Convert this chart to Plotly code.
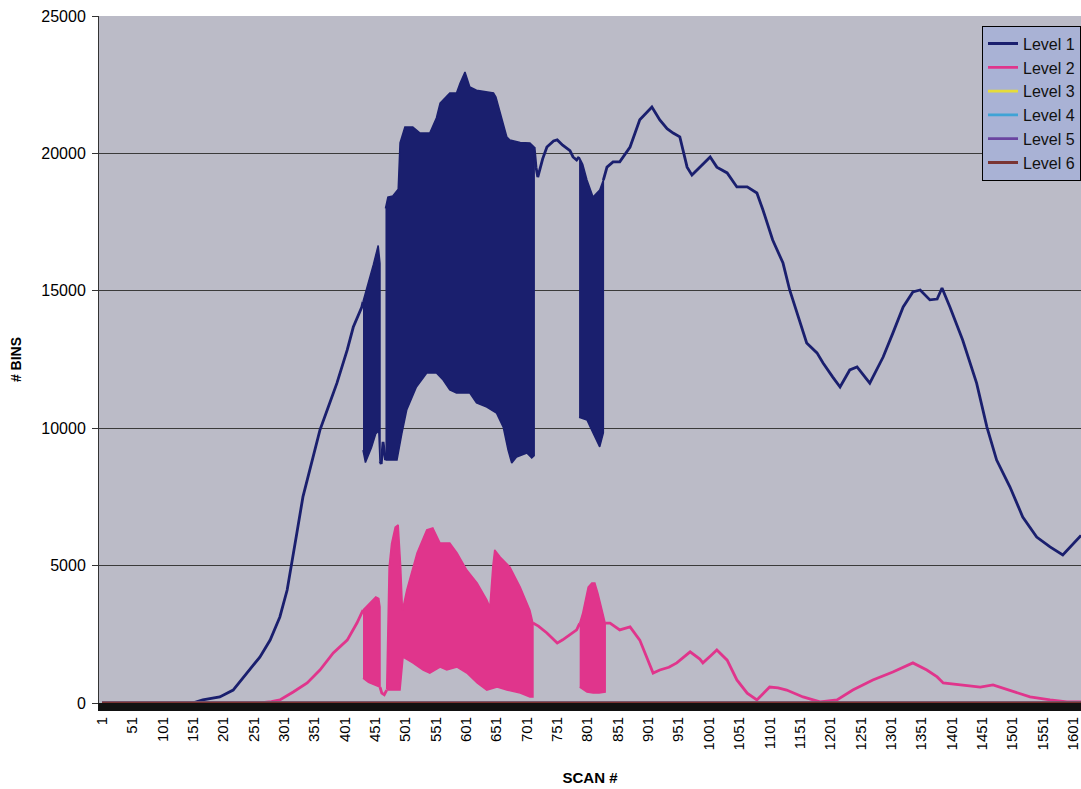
import plotly.graph_objects as go

# ---------------- data ----------------
x_tick_labels = [str(v) for v in [1, 51, 101, 151, 201, 251, 301, 351, 401, 451, 501, 551, 601, 651, 701,
                                  751, 801, 851, 901, 951, 1001, 1051, 1101, 1151, 1201, 1251, 1301, 1351,
                                  1401, 1451, 1501, 1551, 1601]]
y_tick_values = [0, 5000, 10000, 15000, 20000, 25000]

# Level 1 - plain line portions (None = break where the signal oscillates scan-to-scan)
L1_scan = [1, 150, 167, 195, 217, 240, 261, 278, 294, 306, 314, 322, 332, 344, 360, 372, 388, 405, 415, 429, 431,
           None,
           459, 461, 464, 468,
           None,
           713, 716, 719, 727, 734, 745, 751, 760, 772, 777, 783, 787,
           None,
           827, 830, 833, 843, 854, 871, 887, 907, 920, 932, 942, 953, 965, 973, 986, 1003, 1014, 1031, 1047,
           1064, 1080, 1090, 1106, 1123, 1134, 1146, 1162, 1179, 1189, 1205, 1217, 1233, 1245, 1266, 1288,
           1304, 1321, 1337, 1349, 1365, 1377, 1385, 1398, 1419, 1442, 1459, 1475, 1497, 1518, 1541, 1563,
           1584, 1596, 1614]
L1_bins = [0, 0, 110, 220, 470, 1090, 1670, 2290, 3130, 4110, 5090, 6190, 7500, 8590, 9930, 10660, 11640, 12850,
           13680, 14410, 14600,
           None,
           8800, 8700, 9500, 8840,
           None,
           20230, 19500, 19140, 19800, 20230, 20450, 20490, 20300, 20100, 19870, 19760, 19870,
           None,
           19030, 19300, 19500, 19690, 19690, 20230, 21220, 21690, 21220, 20900, 20740, 20600, 19500, 19210,
           19500, 19870, 19500, 19290, 18780, 18780, 18560, 17940, 16850, 16010, 15030, 14190, 13100, 12740,
           12370, 11860, 11500, 12120, 12230, 11640, 12590, 13460, 14410, 14960, 15030, 14670, 14700, 15100,
           14410, 13210, 11640, 10040, 8840, 7860, 6770, 6040, 5680, 5390, 5680, 6100]

# Level 1 - oscillating stretches: upper and lower envelopes
L1_A_top_scan = [431, 440, 448, 456, 459]
L1_A_top_bins = [14600, 15300, 15950, 16650, 16000]
L1_A_bot_scan = [431, 435, 445, 452, 457, 459]
L1_A_bot_bins = [9200, 8750, 9300, 9800, 9900, 8800]

L1_B_top_scan = [468, 472, 480, 489, 492, 500, 513, 525, 541, 552, 558, 574, 585, 591, 599, 607, 618, 646,
                 650, 657, 668, 673, 690, 706, 713]
L1_B_top_bins = [18000, 18410, 18450, 18700, 20380, 20960, 20960, 20740, 20740, 21300, 21830, 22200, 22200,
                 22560, 22960, 22420, 22300, 22200, 22050, 21470, 20600, 20490, 20400, 20380, 20230]
L1_B_bot_scan = [468, 487, 495, 503, 519, 536, 552, 563, 574, 585, 607, 618, 635, 651, 662, 670, 676, 684,
                 701, 709, 713]
L1_B_bot_bins = [8840, 8840, 9800, 10660, 11500, 12010, 12010, 11750, 11390, 11280, 11280, 10920, 10770,
                 10550, 10040, 9200, 8730, 8950, 9100, 8920, 9000]

L1_C_top_scan = [787, 793, 800, 810, 821, 827]
L1_C_top_bins = [19870, 19600, 19030, 18410, 18670, 19030]
L1_C_bot_scan = [787, 800, 810, 821, 827]
L1_C_bot_bins = [10400, 10300, 9830, 9320, 9830]

# Level 2 - plain line portions
L2_scan = [1, 261, 280, 294, 316, 339, 360, 382, 405, 421, 431,
           None,
           459, 462, 466, 470,
           None,
           711, 720, 734, 751, 760, 772, 783, 788,
           None,
           830, 838, 854, 871, 887, 900, 909, 920, 935, 948, 970, 986, 991, 1003, 1014, 1031, 1047, 1064,
           1080, 1101, 1115, 1129, 1156, 1184, 1212, 1238, 1271, 1304, 1337, 1360, 1377, 1387, 1415, 1448,
           1469, 1497, 1530, 1563, 1591, 1614]
L2_bins = [0, 0, 50, 110, 400, 730, 1200, 1820, 2290, 2910, 3380,
           None,
           580, 360, 300, 470,
           None,
           2910, 2800, 2550, 2180, 2300, 2500, 2660, 2900,
           None,
           2910, 2910, 2660, 2770, 2290, 1600, 1090, 1200, 1300, 1460, 1860, 1600, 1460, 1700, 1930, 1560,
           840, 360, 110, 580, 550, 470, 220, 40, 110, 470, 840, 1130, 1460, 1200, 950, 730, 660, 580, 660,
           470, 220, 110, 40, 40]

# Level 2 - oscillating stretches
L2_A_top_scan = [431, 440, 452, 457, 459]
L2_A_top_bins = [3380, 3600, 3860, 3800, 3500]
L2_A_bot_scan = [431, 440, 450, 459]
L2_A_bot_bins = [900, 750, 650, 580]

L2_B_top_scan = [470, 474, 478, 484, 489, 493, 496, 503, 520, 536, 546, 558, 574, 586, 602, 619, 635, 640,
                 645, 648, 657, 673, 690, 706, 711]
L2_B_top_bins = [500, 4950, 5800, 6400, 6480, 5000, 3380, 4110, 5460, 6300, 6370, 5820, 5820, 5460, 4840,
                 4370, 3750, 3490, 5000, 5570, 5310, 4950, 4220, 3380, 2910]
L2_B_bot_scan = [470, 492, 497, 513, 530, 541, 558, 569, 586, 602, 619, 635, 652, 668, 690, 706, 711]
L2_B_bot_bins = [470, 470, 1670, 1460, 1200, 1090, 1310, 1200, 1310, 1090, 730, 470, 580, 470, 360, 220, 220]

L2_C_top_scan = [788, 793, 802, 808, 813, 818, 826, 830]
L2_C_top_bins = [2900, 3280, 4220, 4370, 4370, 4000, 3280, 2910]
L2_C_bot_scan = [788, 800, 810, 820, 830]
L2_C_bot_bins = [580, 400, 360, 360, 400]

# Levels 3-6 sit on the zero line for the whole run
L3_scan, L3_bins = [1, 1614], [0, 0]
L4_scan, L4_bins = [1, 1614], [0, 0]
L5_scan, L5_bins = [1, 1614], [0, 0]
L6_scan, L6_bins = [1, 1614], [0, 0]

# ---------------- styling ----------------
NAVY = "#1a1f6e"
PINK = "#e0358c"
FONT = "Liberation Sans, Arial, sans-serif"

fig = go.Figure()


def add_band(top_x, top_y, bot_x, bot_y, color, group):
    fig.add_trace(go.Scatter(
        x=list(top_x) + list(bot_x)[::-1],
        y=list(top_y) + list(bot_y)[::-1],
        mode="lines", fill="toself", fillcolor=color,
        line=dict(color=color, width=1.5),
        showlegend=False, legendgroup=group, hoverinfo="skip"))


# Level 1
fig.add_trace(go.Scatter(x=L1_scan, y=L1_bins, mode="lines", name="Level 1",
                         line=dict(color=NAVY, width=2.8), connectgaps=False, legendgroup="l1"))
add_band(L1_A_top_scan, L1_A_top_bins, L1_A_bot_scan, L1_A_bot_bins, NAVY, "l1")
add_band(L1_B_top_scan, L1_B_top_bins, L1_B_bot_scan, L1_B_bot_bins, NAVY, "l1")
add_band(L1_C_top_scan, L1_C_top_bins, L1_C_bot_scan, L1_C_bot_bins, NAVY, "l1")

# Level 2
fig.add_trace(go.Scatter(x=L2_scan, y=L2_bins, mode="lines", name="Level 2",
                         line=dict(color=PINK, width=2.8), connectgaps=False, legendgroup="l2"))
add_band(L2_A_top_scan, L2_A_top_bins, L2_A_bot_scan, L2_A_bot_bins, PINK, "l2")
add_band(L2_B_top_scan, L2_B_top_bins, L2_B_bot_scan, L2_B_bot_bins, PINK, "l2")
add_band(L2_C_top_scan, L2_C_top_bins, L2_C_bot_scan, L2_C_bot_bins, PINK, "l2")

# Levels 3-6
for name, xs, ys, col in [("Level 3", L3_scan, L3_bins, "#e6dc3a"),
                          ("Level 4", L4_scan, L4_bins, "#3fa3d6"),
                          ("Level 5", L5_scan, L5_bins, "#6a44a0"),
                          ("Level 6", L6_scan, L6_bins, "#7a3434")]:
    fig.add_trace(go.Scatter(x=xs, y=ys, mode="lines", name=name, line=dict(color=col, width=2.8)))

fig.update_layout(
    width=1081, height=789,
    margin=dict(l=99, r=0, t=16, b=86, pad=0),
    paper_bgcolor="white",
    plot_bgcolor="#bbbbc7",
    font=dict(family=FONT, color="black"),
    legend=dict(x=1.0, xanchor="right", y=0.986, yanchor="top",
                bgcolor="#a9b2d5", bordercolor="black", borderwidth=1,
                font=dict(family=FONT, size=16, color="#111"),
                tracegroupgap=0, itemwidth=30),
    xaxis=dict(
        range=[-4, 1614],
        tickmode="array",
        tickvals=[int(t) for t in x_tick_labels],
        ticktext=x_tick_labels,
        tickangle=-90,
        tickfont=dict(size=15, family=FONT),
        showgrid=False, zeroline=False,
        showline=True, linecolor="#111111", linewidth=8,
        ticks="",
        title=dict(text="<b>SCAN #</b>", font=dict(size=15, family=FONT), standoff=26),
    ),
    yaxis=dict(
        range=[0, 25000],
        tickmode="array",
        tickvals=y_tick_values,
        ticktext=[str(v) for v in y_tick_values],
        tickfont=dict(size=16, family=FONT),
        ticks="outside", ticklen=6, tickcolor="#333333",
        ticklabelstandoff=3,
        showgrid=True, gridcolor="#3a3a3a", gridwidth=1,
        zeroline=False,
        showline=True, linecolor="#333333", linewidth=1,
        title=dict(text="<b># BINS</b>", font=dict(size=14, family=FONT), standoff=16),
    ),
)

fig.write_html("out.html")
